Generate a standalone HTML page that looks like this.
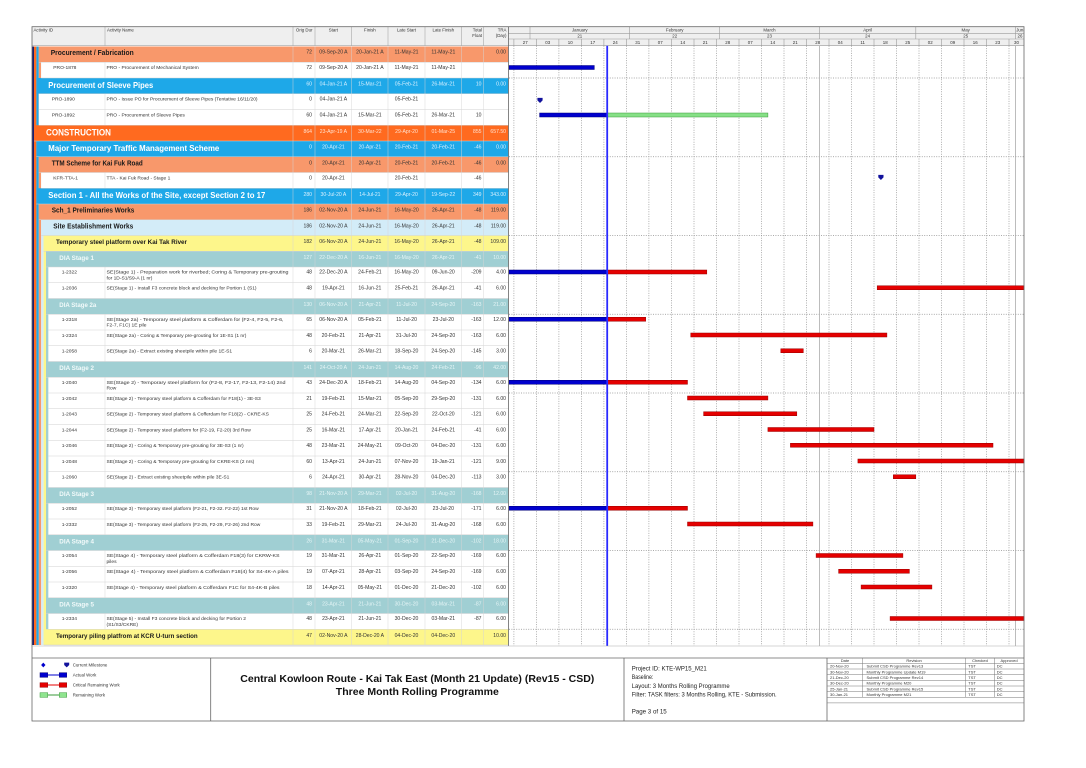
<!DOCTYPE html>
<html><head><meta charset="utf-8">
<style>
html,body{margin:0;padding:0;background:#fff;}
svg{display:block}
text{font-family:"Liberation Sans",Arial,sans-serif}
.h{font-size:4.4px;fill:#333}
.d{font-size:4.9px;fill:#333}
.n{font-size:5.1px;fill:#333}
.w{fill:#dcf1ff}
.t{fill:#e6f5f6}
.o{fill:#ffe3d2}
.m{text-anchor:middle}
.e{text-anchor:end}
.b{font-weight:bold}
.tw{font-weight:bold;fill:#fff}
.tk{font-weight:bold;fill:#1a1a1a}
.tt{font-weight:bold;fill:#f2fafa}
</style></head><body>
<svg xmlns="http://www.w3.org/2000/svg" width="1086" height="768" viewBox="0 0 1086 768">
<defs>
<clipPath id="gc"><rect x="508.5" y="26.7" width="515.5" height="620"/></clipPath>
</defs>
<rect x="0" y="0" width="1086" height="768" fill="#fff"/>

<!-- ===== TABLE HEADER ===== -->
<rect x="32" y="26.7" width="476.5" height="19" fill="#efefef"/>
<g stroke="#a8a8a8" stroke-width="0.6">
<line x1="105" y1="26.7" x2="105" y2="45.7"/><line x1="293" y1="26.7" x2="293" y2="45.7"/>
<line x1="315" y1="26.7" x2="315" y2="45.7"/><line x1="351.7" y1="26.7" x2="351.7" y2="45.7"/>
<line x1="388" y1="26.7" x2="388" y2="45.7"/><line x1="425" y1="26.7" x2="425" y2="45.7"/>
<line x1="461.7" y1="26.7" x2="461.7" y2="45.7"/><line x1="483.3" y1="26.7" x2="483.3" y2="45.7"/>
<line x1="32" y1="45.7" x2="508.5" y2="45.7"/>
</g>
<g class="h">
<text x="33.5" y="31.6">Activity ID</text>
<text x="107" y="31.6">Activity Name</text>
<text x="312.5" y="31.6" class="e">Orig Dur</text>
<text x="333.4" y="31.6" class="m">Start</text>
<text x="369.9" y="31.6" class="m">Finish</text>
<text x="406.5" y="31.6" class="m">Late Start</text>
<text x="443.3" y="31.6" class="m">Late Finish</text>
<text x="482" y="31.6" class="e">Total</text><text x="482" y="36.8" class="e">Float</text>
<text x="506.5" y="31.6" class="e">TRA</text><text x="506.5" y="36.8" class="e">(Day)</text>
</g>

<!-- ===== GANTT HEADER ===== -->
<rect x="508.5" y="26.7" width="515.5" height="19" fill="#efefef"/>
<g stroke="#9a9a9a" stroke-width="0.6">
<line x1="508.5" y1="33.3" x2="1024" y2="33.3"/>
<line x1="508.5" y1="39" x2="1024" y2="39"/>
<line x1="508.5" y1="45.7" x2="1024" y2="45.7"/>
<path d="M530 26.7V39M629.7 26.7V39M719.7 26.7V39M819.4 26.7V39M915.8 26.7V39M1015.5 26.7V39"/>
<path d="M513.9 39V45.7M536.4 39V45.7M558.9 39V45.7M581.4 39V45.7M603.9 39V45.7M626.4 39V45.7M648.9 39V45.7M671.5 39V45.7M694 39V45.7M716.5 39V45.7M739 39V45.7M761.5 39V45.7M784 39V45.7M806.5 39V45.7M829 39V45.7M851.5 39V45.7M874 39V45.7M896.5 39V45.7M919 39V45.7M941.5 39V45.7M964 39V45.7M986.5 39V45.7M1009 39V45.7"/>
</g>
<g class="h" clip-path="url(#gc)">
<text x="579.8" y="31.6" class="m">January</text><text x="579.8" y="37.4" class="m">21</text>
<text x="674.7" y="31.6" class="m">February</text><text x="674.7" y="37.4" class="m">22</text>
<text x="769.5" y="31.6" class="m">March</text><text x="769.5" y="37.4" class="m">23</text>
<text x="867.6" y="31.6" class="m">April</text><text x="867.6" y="37.4" class="m">24</text>
<text x="965.7" y="31.6" class="m">May</text><text x="965.7" y="37.4" class="m">25</text>
<text x="1021" y="31.6" class="m">June</text><text x="1020" y="37.4" class="m">26</text>
<text x="525.2" y="43.9" class="m">27</text><text x="547.7" y="43.9" class="m">03</text>
<text x="570.2" y="43.9" class="m">10</text><text x="592.7" y="43.9" class="m">17</text>
<text x="615.2" y="43.9" class="m">24</text><text x="637.7" y="43.9" class="m">31</text>
<text x="660.2" y="43.9" class="m">07</text><text x="682.7" y="43.9" class="m">14</text>
<text x="705.2" y="43.9" class="m">21</text><text x="727.7" y="43.9" class="m">28</text>
<text x="750.2" y="43.9" class="m">07</text><text x="772.7" y="43.9" class="m">14</text>
<text x="795.2" y="43.9" class="m">21</text><text x="817.7" y="43.9" class="m">28</text>
<text x="840.2" y="43.9" class="m">04</text><text x="862.7" y="43.9" class="m">11</text>
<text x="885.2" y="43.9" class="m">18</text><text x="907.7" y="43.9" class="m">25</text>
<text x="930.2" y="43.9" class="m">02</text><text x="952.7" y="43.9" class="m">09</text>
<text x="975.2" y="43.9" class="m">16</text><text x="997.7" y="43.9" class="m">23</text>
<text x="1016.5" y="43.9" class="m">30</text>
</g>

<!-- ===== LEFT STRIPS ===== -->
<rect x="32" y="46.5" width="2" height="598.5" fill="#1b1f6e"/>
<rect x="34" y="46.5" width="2.4" height="598.5" fill="#ff6a1f"/>
<rect x="36.4" y="46.5" width="2.4" height="598.5" fill="#1ea8e8"/>
<rect x="38.8" y="46.5" width="2.4" height="598.5" fill="#f8986b"/>
<rect x="41.2" y="46.5" width="2.4" height="598.5" fill="#d3ecf8"/>
<rect x="43.6" y="46.5" width="2.4" height="598.5" fill="#fdf68b"/>
<rect x="46" y="46.5" width="2.4" height="598.5" fill="#a0cfd3"/>

<!-- ===== ROW BACKGROUNDS ===== -->
<g>
<rect x="38.8" y="46.5" width="469.7" height="15.75" fill="#f8986b"/>
<rect x="41.2" y="62.25" width="467.3" height="15.75" fill="#fff"/>
<rect x="36.4" y="78" width="472.1" height="15.75" fill="#1ea8e8"/>
<rect x="38.8" y="93.75" width="469.7" height="31.5" fill="#fff"/>
<rect x="34" y="125.25" width="474.5" height="15.75" fill="#ff6a1f"/>
<rect x="36.4" y="141" width="472.1" height="15.75" fill="#1ea8e8"/>
<rect x="38.8" y="156.75" width="469.7" height="15.75" fill="#f8986b"/>
<rect x="41.2" y="172.5" width="467.3" height="15.75" fill="#fff"/>
<rect x="36.4" y="188.25" width="472.1" height="15.75" fill="#1ea8e8"/>
<rect x="38.8" y="204" width="469.7" height="15.75" fill="#f8986b"/>
<rect x="41.2" y="219.75" width="467.3" height="15.75" fill="#d3ecf8"/>
<rect x="43.6" y="235.5" width="464.9" height="15.75" fill="#fdf68b"/>
<rect x="46" y="251.25" width="462.5" height="15.75" fill="#a0cfd3"/>
<rect x="48.4" y="267" width="460.1" height="31.5" fill="#fff"/>
<rect x="46" y="298.5" width="462.5" height="15.75" fill="#a0cfd3"/>
<rect x="48.4" y="314.25" width="460.1" height="47.25" fill="#fff"/>
<rect x="46" y="361.5" width="462.5" height="15.75" fill="#a0cfd3"/>
<rect x="48.4" y="377.25" width="460.1" height="110.25" fill="#fff"/>
<rect x="46" y="487.5" width="462.5" height="15.75" fill="#a0cfd3"/>
<rect x="48.4" y="503.25" width="460.1" height="31.5" fill="#fff"/>
<rect x="46" y="534.75" width="462.5" height="15.75" fill="#a0cfd3"/>
<rect x="48.4" y="550.5" width="460.1" height="47.25" fill="#fff"/>
<rect x="46" y="597.75" width="462.5" height="15.75" fill="#a0cfd3"/>
<rect x="48.4" y="613.5" width="460.1" height="15.75" fill="#fff"/>
<rect x="43.6" y="629.25" width="464.9" height="15.75" fill="#fdf68b"/>
</g>

<!-- row separators -->
<g stroke="#d2d2d2" stroke-width="0.5">
<path d="M38.8 62.25H508.5M41.2 78H508.5M38.8 93.75H508.5M38.8 109.5H508.5M38.8 125.25H508.5M34 141H508.5M36.4 156.75H508.5M38.8 172.5H508.5M41.2 188.25H508.5M36.4 204H508.5M38.8 219.75H508.5M41.2 235.5H508.5M43.6 251.25H508.5M46 267H508.5M48.4 282.75H508.5M48.4 298.5H508.5M46 314.25H508.5M48.4 330H508.5M48.4 345.75H508.5M48.4 361.5H508.5M46 377.25H508.5M48.4 393H508.5M48.4 408.75H508.5M48.4 424.5H508.5M48.4 440.25H508.5M48.4 456H508.5M48.4 471.75H508.5M48.4 487.5H508.5M46 503.25H508.5M48.4 519H508.5M48.4 534.75H508.5M46 550.5H508.5M48.4 566.25H508.5M48.4 582H508.5M48.4 597.75H508.5M46 613.5H508.5M48.4 629.25H508.5M43.6 645H508.5"/>
</g>
<!-- column separators -->
<g stroke="#d6d6d6" stroke-width="0.55" opacity="0.85">
<path d="M293 46.5V645M315 46.5V645M351.7 46.5V645M388 46.5V645M425 46.5V645M461.7 46.5V645M483.3 46.5V645"/>
<path d="M105 62.25V78M105 93.75V125.25M105 172.5V188.25M105 267V298.5M105 314.25V361.5M105 377.25V487.5M105 503.25V534.75M105 550.5V597.75M105 613.5V629.25"/>
</g>

<!-- ===== ROW TEXT ===== -->
<!-- 0 -->
<g transform="translate(0,46.5)" class="n">
<text x="50.7" y="8.6" class="tk" style="font-size:7px" textLength="83" lengthAdjust="spacingAndGlyphs">Procurement / Fabrication</text>
<text x="312" y="7.2" class="e">72</text><text x="333.4" y="7.2" class="m">09-Sep-20 A</text><text x="369.9" y="7.2" class="m">20-Jan-21 A</text><text x="406.5" y="7.2" class="m">11-May-21</text><text x="443.3" y="7.2" class="m">11-May-21</text><text x="506" y="7.2" class="e">0.00</text>
</g>
<!-- 1 -->
<g transform="translate(0,62.25)" class="n">
<text x="53.3" y="6.9" class="d">PRO-1878</text><text x="106.5" y="6.9" class="d">PRO - Procurement of  Mechanical System</text>
<text x="312" y="6.9" class="e">72</text><text x="333.4" y="6.9" class="m">09-Sep-20 A</text><text x="369.9" y="6.9" class="m">20-Jan-21 A</text><text x="406.5" y="6.9" class="m">11-May-21</text><text x="443.3" y="6.9" class="m">11-May-21</text>
</g>
<!-- 2 -->
<g transform="translate(0,78)" class="n w">
<text x="48.3" y="9.9" class="tw" style="font-size:8.5px" textLength="105" lengthAdjust="spacingAndGlyphs">Procurement of Sleeve Pipes</text>
<text x="312" y="7.6" class="e">60</text><text x="333.4" y="7.6" class="m">04-Jan-21 A</text><text x="369.9" y="7.6" class="m">15-Mar-21</text><text x="406.5" y="7.6" class="m">05-Feb-21</text><text x="443.3" y="7.6" class="m">26-Mar-21</text><text x="481.5" y="7.6" class="e">10</text><text x="506" y="7.6" class="e">0.00</text>
</g>
<!-- 3 -->
<g transform="translate(0,93.75)" class="n">
<text x="51.7" y="6.9" class="d">PRO-1890</text><text x="106.5" y="6.9" class="d">PRO - Issue PO for Procurement of Sleeve Pipes (Tentative 16/11/20)</text>
<text x="312" y="6.9" class="e">0</text><text x="333.4" y="6.9" class="m">04-Jan-21 A</text><text x="406.5" y="6.9" class="m">05-Feb-21</text>
</g>
<!-- 4 -->
<g transform="translate(0,109.5)" class="n">
<text x="51.7" y="6.9" class="d">PRO-1892</text><text x="106.5" y="6.9" class="d">PRO - Procurement of Sleeve Pipes</text>
<text x="312" y="6.9" class="e">60</text><text x="333.4" y="6.9" class="m">04-Jan-21 A</text><text x="369.9" y="6.9" class="m">15-Mar-21</text><text x="406.5" y="6.9" class="m">05-Feb-21</text><text x="443.3" y="6.9" class="m">26-Mar-21</text><text x="481.5" y="6.9" class="e">10</text>
</g>
<!-- 5 -->
<g transform="translate(0,125.25)" class="n o">
<text x="46" y="10.2" class="tw" style="font-size:9px" textLength="65" lengthAdjust="spacingAndGlyphs">CONSTRUCTION</text>
<text x="312" y="7.6" class="e">864</text><text x="333.4" y="7.6" class="m">23-Apr-19 A</text><text x="369.9" y="7.6" class="m">30-Mar-22</text><text x="406.5" y="7.6" class="m">29-Apr-20</text><text x="443.3" y="7.6" class="m">01-Mar-25</text><text x="481.5" y="7.6" class="e">855</text><text x="506" y="7.6" class="e">657.50</text>
</g>
<!-- 6 -->
<g transform="translate(0,141)" class="n w">
<text x="48.3" y="9.8" class="tw" style="font-size:8.5px" textLength="171" lengthAdjust="spacingAndGlyphs">Major Temporary Traffic Management Scheme</text>
<text x="312" y="7.6" class="e">0</text><text x="333.4" y="7.6" class="m">20-Apr-21</text><text x="369.9" y="7.6" class="m">20-Apr-21</text><text x="406.5" y="7.6" class="m">20-Feb-21</text><text x="443.3" y="7.6" class="m">20-Feb-21</text><text x="481.5" y="7.6" class="e">-46</text><text x="506" y="7.6" class="e">0.00</text>
</g>
<!-- 7 -->
<g transform="translate(0,156.75)" class="n">
<text x="51.7" y="8.7" class="tk" style="font-size:7px" textLength="91" lengthAdjust="spacingAndGlyphs">TTM Scheme for Kai Fuk Road</text>
<text x="312" y="7.6" class="e">0</text><text x="333.4" y="7.6" class="m">20-Apr-21</text><text x="369.9" y="7.6" class="m">20-Apr-21</text><text x="406.5" y="7.6" class="m">20-Feb-21</text><text x="443.3" y="7.6" class="m">20-Feb-21</text><text x="481.5" y="7.6" class="e">-46</text><text x="506" y="7.6" class="e">0.00</text>
</g>
<!-- 8 -->
<g transform="translate(0,172.5)" class="n">
<text x="53.3" y="6.9" class="d">KFR-TTA-1</text><text x="106.5" y="6.9" class="d">TTA - Kai Fuk Road - Stage 1</text>
<text x="312" y="6.9" class="e">0</text><text x="333.4" y="6.9" class="m">20-Apr-21</text><text x="406.5" y="6.9" class="m">20-Feb-21</text><text x="481.5" y="6.9" class="e">-46</text>
</g>
<!-- 9 -->
<g transform="translate(0,188.25)" class="n w">
<text x="48.3" y="9.9" class="tw" style="font-size:8.5px" textLength="217" lengthAdjust="spacingAndGlyphs">Section 1 - All the Works of the Site, except Section 2 to 17</text>
<text x="312" y="7.6" class="e">280</text><text x="333.4" y="7.6" class="m">30-Jul-20 A</text><text x="369.9" y="7.6" class="m">14-Jul-21</text><text x="406.5" y="7.6" class="m">29-Apr-20</text><text x="443.3" y="7.6" class="m">19-Sep-22</text><text x="481.5" y="7.6" class="e">349</text><text x="506" y="7.6" class="e">343.00</text>
</g>
<!-- 10 -->
<g transform="translate(0,204)" class="n">
<text x="51.7" y="8.7" class="tk" style="font-size:7px" textLength="82.7" lengthAdjust="spacingAndGlyphs">Sch_1 Preliminaries Works</text>
<text x="312" y="7.6" class="e">186</text><text x="333.4" y="7.6" class="m">02-Nov-20 A</text><text x="369.9" y="7.6" class="m">24-Jun-21</text><text x="406.5" y="7.6" class="m">16-May-20</text><text x="443.3" y="7.6" class="m">26-Apr-21</text><text x="481.5" y="7.6" class="e">-48</text><text x="506" y="7.6" class="e">119.00</text>
</g>
<!-- 11 -->
<g transform="translate(0,219.75)" class="n">
<text x="53.3" y="8.7" class="tk" style="font-size:7px" textLength="80" lengthAdjust="spacingAndGlyphs">Site Establishment Works</text>
<text x="312" y="7.6" class="e">186</text><text x="333.4" y="7.6" class="m">02-Nov-20 A</text><text x="369.9" y="7.6" class="m">24-Jun-21</text><text x="406.5" y="7.6" class="m">16-May-20</text><text x="443.3" y="7.6" class="m">26-Apr-21</text><text x="481.5" y="7.6" class="e">-48</text><text x="506" y="7.6" class="e">119.00</text>
</g>
<!-- 12 -->
<g transform="translate(0,235.5)" class="n">
<text x="56" y="8.6" class="tk" style="font-size:6.6px" textLength="131" lengthAdjust="spacingAndGlyphs">Temporary steel platform over Kai Tak River</text>
<text x="312" y="7.6" class="e">182</text><text x="333.4" y="7.6" class="m">06-Nov-20 A</text><text x="369.9" y="7.6" class="m">24-Jun-21</text><text x="406.5" y="7.6" class="m">16-May-20</text><text x="443.3" y="7.6" class="m">26-Apr-21</text><text x="481.5" y="7.6" class="e">-48</text><text x="506" y="7.6" class="e">109.00</text>
</g>
<!-- 13 -->
<g transform="translate(0,251.25)" class="n t">
<text x="59.3" y="8.6" class="tt" style="font-size:6.5px" textLength="34.7" lengthAdjust="spacingAndGlyphs">DIA Stage 1</text>
<text x="312" y="7.6" class="e">127</text><text x="333.4" y="7.6" class="m">22-Dec-20 A</text><text x="369.9" y="7.6" class="m">16-Jun-21</text><text x="406.5" y="7.6" class="m">16-May-20</text><text x="443.3" y="7.6" class="m">26-Apr-21</text><text x="481.5" y="7.6" class="e">-41</text><text x="506" y="7.6" class="e">10.00</text>
</g>
<!-- 14 -->
<g transform="translate(0,267)" class="n">
<text x="61.7" y="6.6" class="d">1-2322</text>
<text x="106.5" y="6.6" class="d" textLength="182" lengthAdjust="spacingAndGlyphs">SE(Stage 1) - Preparation work for riverbed; Coring &amp; Temporary pre-grouting</text>
<text x="106.5" y="12.3" class="d">for 1D-S1/S9-A (1 nr)</text>
<text x="312" y="6.6" class="e">48</text><text x="333.4" y="6.6" class="m">22-Dec-20 A</text><text x="369.9" y="6.6" class="m">24-Feb-21</text><text x="406.5" y="6.6" class="m">16-May-20</text><text x="443.3" y="6.6" class="m">09-Jun-20</text><text x="481.5" y="6.6" class="e">-209</text><text x="506" y="6.6" class="e">4.00</text>
</g>
<!-- 15 -->
<g transform="translate(0,282.75)" class="n">
<text x="61.7" y="6.9" class="d">1-2036</text><text x="106.5" y="6.9" class="d">SE(Stage 1) - Install F3 concrete block and decking for Portion 1 (S1)</text>
<text x="312" y="6.9" class="e">48</text><text x="333.4" y="6.9" class="m">19-Apr-21</text><text x="369.9" y="6.9" class="m">16-Jun-21</text><text x="406.5" y="6.9" class="m">25-Feb-21</text><text x="443.3" y="6.9" class="m">26-Apr-21</text><text x="481.5" y="6.9" class="e">-41</text><text x="506" y="6.9" class="e">6.00</text>
</g>
<!-- 16 -->
<g transform="translate(0,298.5)" class="n t">
<text x="59.3" y="8.6" class="tt" style="font-size:6.5px" textLength="37" lengthAdjust="spacingAndGlyphs">DIA Stage 2a</text>
<text x="312" y="7.6" class="e">130</text><text x="333.4" y="7.6" class="m">06-Nov-20 A</text><text x="369.9" y="7.6" class="m">21-Apr-21</text><text x="406.5" y="7.6" class="m">11-Jul-20</text><text x="443.3" y="7.6" class="m">24-Sep-20</text><text x="481.5" y="7.6" class="e">-163</text><text x="506" y="7.6" class="e">21.00</text>
</g>
<!-- 17 -->
<g transform="translate(0,314.25)" class="n">
<text x="61.7" y="6.6" class="d">1-2318</text>
<text x="106.5" y="6.6" class="d" textLength="177" lengthAdjust="spacingAndGlyphs">SE(Stage 2a) - Temporary steel platform &amp; Cofferdam for (F2-4, F2-5, F2-6,</text>
<text x="106.5" y="12.3" class="d">F2-7, F1C) 1E pile</text>
<text x="312" y="6.6" class="e">65</text><text x="333.4" y="6.6" class="m">06-Nov-20 A</text><text x="369.9" y="6.6" class="m">05-Feb-21</text><text x="406.5" y="6.6" class="m">11-Jul-20</text><text x="443.3" y="6.6" class="m">23-Jul-20</text><text x="481.5" y="6.6" class="e">-163</text><text x="506" y="6.6" class="e">12.00</text>
</g>
<!-- 18 -->
<g transform="translate(0,330)" class="n">
<text x="61.7" y="6.9" class="d">1-2324</text><text x="106.5" y="6.9" class="d">SE(Stage 2a) - Coring &amp; Temporary pre-grouting for 1E-S1 (1 nr)</text>
<text x="312" y="6.9" class="e">48</text><text x="333.4" y="6.9" class="m">20-Feb-21</text><text x="369.9" y="6.9" class="m">21-Apr-21</text><text x="406.5" y="6.9" class="m">31-Jul-20</text><text x="443.3" y="6.9" class="m">24-Sep-20</text><text x="481.5" y="6.9" class="e">-163</text><text x="506" y="6.9" class="e">6.00</text>
</g>
<!-- 19 -->
<g transform="translate(0,345.75)" class="n">
<text x="61.7" y="6.9" class="d">1-2058</text><text x="106.5" y="6.9" class="d">SE(Stage 2a) - Extract existing sheetpile within pile 1E-S1</text>
<text x="312" y="6.9" class="e">6</text><text x="333.4" y="6.9" class="m">20-Mar-21</text><text x="369.9" y="6.9" class="m">26-Mar-21</text><text x="406.5" y="6.9" class="m">18-Sep-20</text><text x="443.3" y="6.9" class="m">24-Sep-20</text><text x="481.5" y="6.9" class="e">-145</text><text x="506" y="6.9" class="e">3.00</text>
</g>
<!-- 20 -->
<g transform="translate(0,361.5)" class="n t">
<text x="59.3" y="8.6" class="tt" style="font-size:6.5px" textLength="34.7" lengthAdjust="spacingAndGlyphs">DIA Stage 2</text>
<text x="312" y="7.6" class="e">141</text><text x="333.4" y="7.6" class="m">24-Oct-20 A</text><text x="369.9" y="7.6" class="m">24-Jun-21</text><text x="406.5" y="7.6" class="m">14-Aug-20</text><text x="443.3" y="7.6" class="m">24-Feb-21</text><text x="481.5" y="7.6" class="e">-96</text><text x="506" y="7.6" class="e">42.00</text>
</g>
<!-- 21 -->
<g transform="translate(0,377.25)" class="n">
<text x="61.7" y="6.6" class="d">1-2040</text>
<text x="106.5" y="6.6" class="d" textLength="179" lengthAdjust="spacingAndGlyphs">SE(Stage 2) - Temporary steel platform for (F2-8, F2-17, F2-13, F2-14) 2nd</text>
<text x="106.5" y="12.3" class="d">Row</text>
<text x="312" y="6.6" class="e">43</text><text x="333.4" y="6.6" class="m">24-Dec-20 A</text><text x="369.9" y="6.6" class="m">18-Feb-21</text><text x="406.5" y="6.6" class="m">14-Aug-20</text><text x="443.3" y="6.6" class="m">04-Sep-20</text><text x="481.5" y="6.6" class="e">-134</text><text x="506" y="6.6" class="e">6.00</text>
</g>
<!-- 22 -->
<g transform="translate(0,393)" class="n">
<text x="61.7" y="6.9" class="d">1-2042</text><text x="106.5" y="6.9" class="d">SE(Stage 2) - Temporary steel platform &amp; Cofferdam for F18(1) - 3E-S3</text>
<text x="312" y="6.9" class="e">21</text><text x="333.4" y="6.9" class="m">19-Feb-21</text><text x="369.9" y="6.9" class="m">15-Mar-21</text><text x="406.5" y="6.9" class="m">05-Sep-20</text><text x="443.3" y="6.9" class="m">29-Sep-20</text><text x="481.5" y="6.9" class="e">-131</text><text x="506" y="6.9" class="e">6.00</text>
</g>
<!-- 23 -->
<g transform="translate(0,408.75)" class="n">
<text x="61.7" y="6.9" class="d">1-2043</text><text x="106.5" y="6.9" class="d">SE(Stage 2) - Temporary steel platform &amp; Cofferdam for  F18(2) - CKRE-KS</text>
<text x="312" y="6.9" class="e">25</text><text x="333.4" y="6.9" class="m">24-Feb-21</text><text x="369.9" y="6.9" class="m">24-Mar-21</text><text x="406.5" y="6.9" class="m">22-Sep-20</text><text x="443.3" y="6.9" class="m">22-Oct-20</text><text x="481.5" y="6.9" class="e">-121</text><text x="506" y="6.9" class="e">6.00</text>
</g>
<!-- 24 -->
<g transform="translate(0,424.5)" class="n">
<text x="61.7" y="6.9" class="d">1-2044</text><text x="106.5" y="6.9" class="d">SE(Stage 2) - Temporary steel platform for (F2-19, F2-20) 3rd Row</text>
<text x="312" y="6.9" class="e">25</text><text x="333.4" y="6.9" class="m">16-Mar-21</text><text x="369.9" y="6.9" class="m">17-Apr-21</text><text x="406.5" y="6.9" class="m">20-Jan-21</text><text x="443.3" y="6.9" class="m">24-Feb-21</text><text x="481.5" y="6.9" class="e">-41</text><text x="506" y="6.9" class="e">6.00</text>
</g>
<!-- 25 -->
<g transform="translate(0,440.25)" class="n">
<text x="61.7" y="6.9" class="d">1-2046</text><text x="106.5" y="6.9" class="d">SE(Stage 2) - Coring &amp; Temporary pre-grouting for 3E-S3 (1 nr)</text>
<text x="312" y="6.9" class="e">48</text><text x="333.4" y="6.9" class="m">23-Mar-21</text><text x="369.9" y="6.9" class="m">24-May-21</text><text x="406.5" y="6.9" class="m">09-Oct-20</text><text x="443.3" y="6.9" class="m">04-Dec-20</text><text x="481.5" y="6.9" class="e">-131</text><text x="506" y="6.9" class="e">6.00</text>
</g>
<!-- 26 -->
<g transform="translate(0,456)" class="n">
<text x="61.7" y="6.9" class="d">1-2048</text><text x="106.5" y="6.9" class="d">SE(Stage 2) - Coring &amp; Temporary pre-grouting for CKRE-KS (2 nrs)</text>
<text x="312" y="6.9" class="e">60</text><text x="333.4" y="6.9" class="m">13-Apr-21</text><text x="369.9" y="6.9" class="m">24-Jun-21</text><text x="406.5" y="6.9" class="m">07-Nov-20</text><text x="443.3" y="6.9" class="m">19-Jan-21</text><text x="481.5" y="6.9" class="e">-121</text><text x="506" y="6.9" class="e">9.00</text>
</g>
<!-- 27 -->
<g transform="translate(0,471.75)" class="n">
<text x="61.7" y="6.9" class="d">1-2060</text><text x="106.5" y="6.9" class="d">SE(Stage 2) - Extract existing sheetpile within pile 3E-S1</text>
<text x="312" y="6.9" class="e">6</text><text x="333.4" y="6.9" class="m">24-Apr-21</text><text x="369.9" y="6.9" class="m">30-Apr-21</text><text x="406.5" y="6.9" class="m">28-Nov-20</text><text x="443.3" y="6.9" class="m">04-Dec-20</text><text x="481.5" y="6.9" class="e">-113</text><text x="506" y="6.9" class="e">3.00</text>
</g>
<!-- 28 -->
<g transform="translate(0,487.5)" class="n t">
<text x="59.3" y="8.6" class="tt" style="font-size:6.5px" textLength="34.7" lengthAdjust="spacingAndGlyphs">DIA Stage 3</text>
<text x="312" y="7.6" class="e">98</text><text x="333.4" y="7.6" class="m">21-Nov-20 A</text><text x="369.9" y="7.6" class="m">29-Mar-21</text><text x="406.5" y="7.6" class="m">02-Jul-20</text><text x="443.3" y="7.6" class="m">31-Aug-20</text><text x="481.5" y="7.6" class="e">-168</text><text x="506" y="7.6" class="e">12.00</text>
</g>
<!-- 29 -->
<g transform="translate(0,503.25)" class="n">
<text x="61.7" y="6.9" class="d">1-2052</text><text x="106.5" y="6.9" class="d">SE(Stage 3) - Temporary steel platform (F2-21, F2-32. F2-22) 1st Row</text>
<text x="312" y="6.9" class="e">31</text><text x="333.4" y="6.9" class="m">21-Nov-20 A</text><text x="369.9" y="6.9" class="m">18-Feb-21</text><text x="406.5" y="6.9" class="m">02-Jul-20</text><text x="443.3" y="6.9" class="m">23-Jul-20</text><text x="481.5" y="6.9" class="e">-171</text><text x="506" y="6.9" class="e">6.00</text>
</g>
<!-- 30 -->
<g transform="translate(0,519)" class="n">
<text x="61.7" y="6.9" class="d">1-2332</text><text x="106.5" y="6.9" class="d">SE(Stage 3) - Temporary steel platform (F2-25, F2-29, F2-26) 2nd Row</text>
<text x="312" y="6.9" class="e">33</text><text x="333.4" y="6.9" class="m">19-Feb-21</text><text x="369.9" y="6.9" class="m">29-Mar-21</text><text x="406.5" y="6.9" class="m">24-Jul-20</text><text x="443.3" y="6.9" class="m">31-Aug-20</text><text x="481.5" y="6.9" class="e">-168</text><text x="506" y="6.9" class="e">6.00</text>
</g>
<!-- 31 -->
<g transform="translate(0,534.75)" class="n t">
<text x="59.3" y="8.6" class="tt" style="font-size:6.5px" textLength="34.7" lengthAdjust="spacingAndGlyphs">DIA Stage 4</text>
<text x="312" y="7.6" class="e">26</text><text x="333.4" y="7.6" class="m">31-Mar-21</text><text x="369.9" y="7.6" class="m">05-May-21</text><text x="406.5" y="7.6" class="m">01-Sep-20</text><text x="443.3" y="7.6" class="m">21-Dec-20</text><text x="481.5" y="7.6" class="e">-102</text><text x="506" y="7.6" class="e">18.00</text>
</g>
<!-- 32 -->
<g transform="translate(0,550.5)" class="n">
<text x="61.7" y="6.6" class="d">1-2054</text>
<text x="106.5" y="6.6" class="d" textLength="173" lengthAdjust="spacingAndGlyphs">SE(Stage 4) - Temporary steel platform &amp; Cofferdam F18(3) for CKRW-KS</text>
<text x="106.5" y="12.3" class="d">piles</text>
<text x="312" y="6.6" class="e">19</text><text x="333.4" y="6.6" class="m">31-Mar-21</text><text x="369.9" y="6.6" class="m">26-Apr-21</text><text x="406.5" y="6.6" class="m">01-Sep-20</text><text x="443.3" y="6.6" class="m">22-Sep-20</text><text x="481.5" y="6.6" class="e">-169</text><text x="506" y="6.6" class="e">6.00</text>
</g>
<!-- 33 -->
<g transform="translate(0,566.25)" class="n">
<text x="61.7" y="6.9" class="d">1-2056</text><text x="106.5" y="6.9" class="d" textLength="182" lengthAdjust="spacingAndGlyphs">SE(Stage 4) - Temporary steel platform &amp; Cofferdam F18(4) for S4-4K-A piles</text>
<text x="312" y="6.9" class="e">19</text><text x="333.4" y="6.9" class="m">07-Apr-21</text><text x="369.9" y="6.9" class="m">28-Apr-21</text><text x="406.5" y="6.9" class="m">03-Sep-20</text><text x="443.3" y="6.9" class="m">24-Sep-20</text><text x="481.5" y="6.9" class="e">-169</text><text x="506" y="6.9" class="e">6.00</text>
</g>
<!-- 34 -->
<g transform="translate(0,582)" class="n">
<text x="61.7" y="6.9" class="d">1-2320</text><text x="106.5" y="6.9" class="d" textLength="173" lengthAdjust="spacingAndGlyphs">SE(Stage 4) - Temporary steel platform &amp; Cofferdam F1C for S4-4K-B piles</text>
<text x="312" y="6.9" class="e">18</text><text x="333.4" y="6.9" class="m">14-Apr-21</text><text x="369.9" y="6.9" class="m">05-May-21</text><text x="406.5" y="6.9" class="m">01-Dec-20</text><text x="443.3" y="6.9" class="m">21-Dec-20</text><text x="481.5" y="6.9" class="e">-102</text><text x="506" y="6.9" class="e">6.00</text>
</g>
<!-- 35 -->
<g transform="translate(0,597.75)" class="n t">
<text x="59.3" y="8.6" class="tt" style="font-size:6.5px" textLength="34.7" lengthAdjust="spacingAndGlyphs">DIA Stage 5</text>
<text x="312" y="7.6" class="e">48</text><text x="333.4" y="7.6" class="m">23-Apr-21</text><text x="369.9" y="7.6" class="m">21-Jun-21</text><text x="406.5" y="7.6" class="m">30-Dec-20</text><text x="443.3" y="7.6" class="m">03-Mar-21</text><text x="481.5" y="7.6" class="e">-87</text><text x="506" y="7.6" class="e">6.00</text>
</g>
<!-- 36 -->
<g transform="translate(0,613.5)" class="n">
<text x="61.7" y="6.6" class="d">1-2334</text>
<text x="106.5" y="6.6" class="d">SE(Stage 5) - Install F3 concrete block and decking for Portion 2</text>
<text x="106.5" y="12.3" class="d">(S1/S3/CKRE)</text>
<text x="312" y="6.6" class="e">48</text><text x="333.4" y="6.6" class="m">23-Apr-21</text><text x="369.9" y="6.6" class="m">21-Jun-21</text><text x="406.5" y="6.6" class="m">30-Dec-20</text><text x="443.3" y="6.6" class="m">03-Mar-21</text><text x="481.5" y="6.6" class="e">-87</text><text x="506" y="6.6" class="e">6.00</text>
</g>
<!-- 37 -->
<g transform="translate(0,629.25)" class="n">
<text x="56" y="8.6" class="tk" style="font-size:6.6px" textLength="141.7" lengthAdjust="spacingAndGlyphs">Temporary piling platfrom at KCR U-turn section</text>
<text x="312" y="7.6" class="e">47</text><text x="333.4" y="7.6" class="m">02-Nov-20 A</text><text x="369.9" y="7.6" class="m">28-Dec-20 A</text><text x="406.5" y="7.6" class="m">04-Dec-20</text><text x="443.3" y="7.6" class="m">04-Dec-20</text><text x="506" y="7.6" class="e">10.00</text>
</g>

<!-- ===== GANTT GRID ===== -->
<g stroke="#8e8e8e" stroke-width="0.7" stroke-dasharray="1 1.4" fill="none">
<path d="M513.9 45.7V646M536.4 45.7V646M558.9 45.7V646M581.4 45.7V646M603.9 45.7V646M626.4 45.7V646M648.9 45.7V646M671.5 45.7V646M694 45.7V646M716.5 45.7V646M739 45.7V646M761.5 45.7V646M784 45.7V646M806.5 45.7V646M829 45.7V646M851.5 45.7V646M874 45.7V646M896.5 45.7V646M919 45.7V646M941.5 45.7V646M964 45.7V646M986.5 45.7V646M1009 45.7V646"/>
<path d="M509 78H1024M509 156.75H1024M509 235.5H1024M509 314.25H1024M509 393H1024M509 471.75H1024M509 550.5H1024M509 629.25H1024"/>
</g>
<g stroke="#a0a0a0" stroke-width="0.7">
<path d="M819.4 45.7V646M1015.5 45.7V646"/>
</g>

<!-- ===== BARS ===== -->
<g stroke-width="0.5">
<g fill="#0000cd" stroke="#00007a">
<rect x="509" y="65.5" width="85.3" height="4"/>
<rect x="539.6" y="113" width="67.6" height="4"/>
<rect x="509" y="270" width="98.2" height="4"/>
<rect x="509" y="317.25" width="98.2" height="4"/>
<rect x="509" y="380.25" width="98.2" height="4"/>
<rect x="509" y="506.25" width="98.2" height="4"/>
</g>
<rect x="607.2" y="113" width="160.7" height="4" fill="#86e086" stroke="#3a9a3a"/>
<g fill="#e40000" stroke="#9a0000">
<rect x="607.2" y="270" width="99.6" height="4"/>
<rect x="877.2" y="285.75" width="146.8" height="4"/>
<rect x="607.2" y="317.25" width="38.5" height="4"/>
<rect x="690.75" y="333" width="196.15" height="4"/>
<rect x="780.8" y="348.75" width="22.5" height="4"/>
<rect x="607.2" y="380.25" width="80.3" height="4"/>
<rect x="687.5" y="396" width="80.4" height="4"/>
<rect x="703.6" y="411.75" width="93.2" height="4"/>
<rect x="767.9" y="427.5" width="106.1" height="4"/>
<rect x="790.4" y="443.25" width="202.6" height="4"/>
<rect x="857.9" y="459" width="166.1" height="4"/>
<rect x="893.3" y="474.75" width="22.5" height="4"/>
<rect x="607.2" y="506.25" width="80.3" height="4"/>
<rect x="687.5" y="522" width="125.4" height="4"/>
<rect x="816.1" y="553.5" width="86.8" height="4"/>
<rect x="838.6" y="569.25" width="70.8" height="4"/>
<rect x="861.1" y="585" width="70.8" height="4"/>
<rect x="890.1" y="616.5" width="133.9" height="4"/>
</g>
</g>
<g fill="#12129c">
<path d="M537.4 97.9H542.6V100.4L540 103L537.4 100.4Z"/>
<path d="M878.3 174.9H883.5V177.4L880.9 180L878.3 177.4Z"/>
</g>
<line x1="607.2" y1="45.7" x2="607.2" y2="646" stroke="#2a2aff" stroke-width="1.8"/>

<!-- ===== FRAMES ===== -->
<g fill="none" stroke="#666" stroke-width="0.8">
<rect x="32" y="26.7" width="992" height="694.3"/>
<line x1="508.5" y1="26.7" x2="508.5" y2="646"/>
<line x1="32" y1="646" x2="1024" y2="646" stroke="#aaa" stroke-width="0.5"/>
<line x1="32" y1="658" x2="1024" y2="658"/>
<line x1="210.7" y1="658" x2="210.7" y2="721"/>
<line x1="624" y1="658" x2="624" y2="721"/>
<line x1="827" y1="658" x2="827" y2="721"/>
</g>

<!-- ===== LEGEND ===== -->
<path d="M43.3 662.6L45.5 665L43.3 667.4L41.1 665Z" fill="#0000cd"/>
<path d="M64.2 662.6H69.2V665L66.7 667.4L64.2 665Z" fill="#12129c"/>
<g stroke-width="0.5">
<line x1="47.7" y1="675" x2="59.3" y2="675" stroke="#0000cd" stroke-width="1"/>
<rect x="40" y="672.7" width="7.7" height="4.6" fill="#0000cd" stroke="#00007a"/>
<rect x="59.3" y="672.7" width="7.4" height="4.6" fill="#0000cd" stroke="#00007a"/>
<line x1="47.7" y1="685" x2="59.3" y2="685" stroke="#e40000" stroke-width="1"/>
<rect x="40" y="682.7" width="7.7" height="4.6" fill="#e40000" stroke="#9a0000"/>
<rect x="59.3" y="682.7" width="7.4" height="4.6" fill="#e40000" stroke="#9a0000"/>
<line x1="47.7" y1="695" x2="59.3" y2="695" stroke="#3a9a3a" stroke-width="1"/>
<rect x="40" y="692.7" width="7.7" height="4.6" fill="#8fe48f" stroke="#3a9a3a"/>
<rect x="59.3" y="692.7" width="7.4" height="4.6" fill="#8fe48f" stroke="#3a9a3a"/>
</g>
<g style="font-size:4.4px;fill:#333">
<text x="72.7" y="666.5">Current Milestone</text>
<text x="72.7" y="676.5">Actual Work</text>
<text x="72.7" y="686.5">Critical Remaining Work</text>
<text x="72.7" y="696.5">Remaining Work</text>
</g>

<!-- ===== TITLE ===== -->
<text x="417.3" y="682" class="m b" style="font-size:10.5px;fill:#111" textLength="354" lengthAdjust="spacingAndGlyphs">Central Kowloon Route - Kai Tak East (Month 21 Update) (Rev15 - CSD)</text>
<text x="417.3" y="695" class="m b" style="font-size:10.5px;fill:#111" textLength="163" lengthAdjust="spacingAndGlyphs">Three Month Rolling Programme</text>

<!-- ===== PROJECT INFO ===== -->
<g style="font-size:6.3px;fill:#222">
<text x="631.7" y="670.7" textLength="75" lengthAdjust="spacingAndGlyphs">Project ID: KTE-WP15_M21</text>
<text x="631.7" y="679.2" textLength="21.7" lengthAdjust="spacingAndGlyphs">Baseline:</text>
<text x="631.7" y="688" textLength="98" lengthAdjust="spacingAndGlyphs">Layout: 3 Months Rolling Programme</text>
<text x="631.7" y="696.4" textLength="145" lengthAdjust="spacingAndGlyphs">Filter: TASK filters: 3 Months Rolling, KTE - Submission.</text>
<text x="631.7" y="713.5" textLength="35" lengthAdjust="spacingAndGlyphs">Page 3 of 15</text>
</g>

<!-- ===== REVISION TABLE ===== -->
<g fill="none" stroke="#777" stroke-width="0.5">
<path d="M827 663.3H1024M827 669H1024M827 674.7H1024M827 680.3H1024M827 686H1024M827 691.7H1024M827 697.3H1024M827 702.9H1024"/>
<path d="M862.7 658V697.3M965.7 658V697.3M994.3 658V697.3"/>
</g>
<g style="font-size:4px;fill:#333">
<text x="845" y="662" class="m">Date</text>
<text x="914" y="662" class="m">Revision</text>
<text x="980" y="662" class="m">Checked</text>
<text x="1009" y="662" class="m">Approved</text>
<text x="830" y="667.6">20-Nov-20</text><text x="866.5" y="667.6">Submit CSD Programme Rev13</text><text x="968.3" y="667.6">TST</text><text x="996.7" y="667.6">DC</text>
<text x="830" y="673.3">30-Nov-20</text><text x="866.5" y="673.3">Monthly Programme Update M19</text><text x="968.3" y="673.3">TST</text><text x="996.7" y="673.3">DC</text>
<text x="830" y="678.9">21-Dec-20</text><text x="866.5" y="678.9">Submit CSD Programme Rev14</text><text x="968.3" y="678.9">TST</text><text x="996.7" y="678.9">DC</text>
<text x="830" y="684.6">30-Dec-20</text><text x="866.5" y="684.6">Monthly Programme M20</text><text x="968.3" y="684.6">TST</text><text x="996.7" y="684.6">DC</text>
<text x="830" y="690.3">25-Jan-21</text><text x="866.5" y="690.3">Submit CSD Programme Rev15</text><text x="968.3" y="690.3">TST</text><text x="996.7" y="690.3">DC</text>
<text x="830" y="695.9">30-Jan-21</text><text x="866.5" y="695.9">Monthly Programme M21</text><text x="968.3" y="695.9">TST</text><text x="996.7" y="695.9">DC</text>
</g>
</svg>
</body></html>
